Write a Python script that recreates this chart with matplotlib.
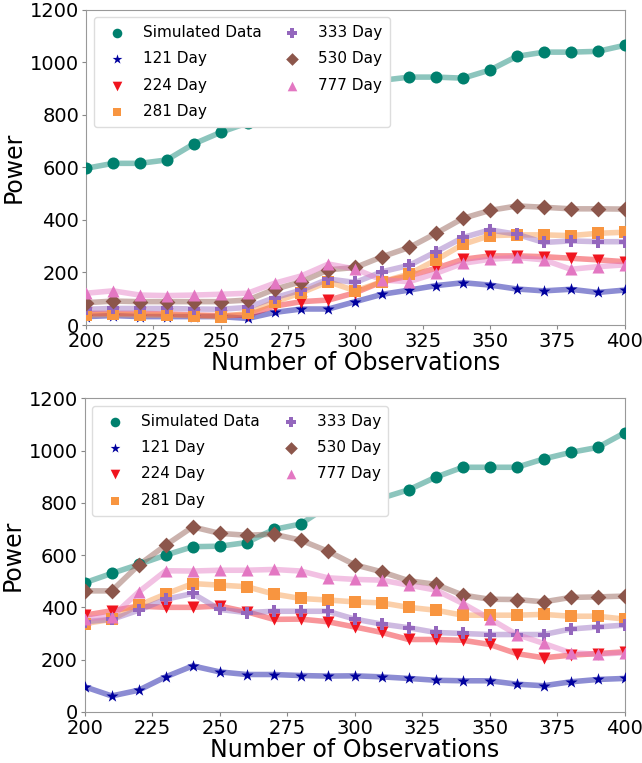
import numpy as np
import matplotlib.pyplot as plt

# number of observations on the x axis
n_obs = np.arange(200, 410, 10)

# panel 1
sim_a = [596, 615, 615, 628, 689, 733, 769, 807, 814, 818, 888,
         931, 943, 943, 939, 970, 1022, 1038, 1038, 1041, 1064]
d121_a = [32, 36, 32, 32, 32, 32, 25, 48, 61, 61, 89,
          117, 133, 150, 161, 152, 137, 130, 136, 124, 133]
d224_a = [44, 44, 44, 42, 38, 36, 38, 72, 89, 95, 123,
          165, 187, 216, 250, 263, 263, 260, 254, 248, 241]
d281_a = [38, 41, 38, 38, 36, 32, 44, 88, 123, 165, 130,
          165, 194, 248, 307, 340, 343, 343, 340, 349, 353]
d333_a = [60, 63, 63, 63, 61, 60, 67, 104, 133, 175, 162,
          203, 227, 279, 333, 362, 345, 314, 320, 317, 317]
d530_a = [85, 91, 89, 89, 89, 89, 95, 136, 165, 210, 219,
          260, 295, 349, 406, 436, 453, 448, 442, 442, 441]
d777_a = [121, 130, 114, 112, 114, 117, 121, 159, 187, 232, 213,
          171, 165, 197, 235, 250, 257, 248, 212, 222, 229]

# panel 2
sim_b = [494, 530, 564, 600, 632, 634, 648, 698, 719, 787, 812,
         818, 850, 898, 936, 936, 936, 968, 993, 1012, 1068]
d121_b = [96, 61, 83, 134, 176, 153, 143, 143, 139, 137, 138,
          134, 128, 121, 119, 119, 106, 100, 115, 124, 128]
d224_b = [370, 387, 405, 400, 400, 405, 383, 354, 355, 345, 325,
          304, 277, 277, 274, 258, 223, 207, 217, 223, 230]
d281_b = [338, 354, 408, 451, 491, 485, 479, 451, 434, 428, 421,
          417, 400, 389, 370, 370, 370, 373, 366, 366, 355]
d333_b = [345, 354, 389, 431, 453, 392, 380, 385, 385, 385, 355,
          336, 322, 304, 300, 296, 296, 296, 317, 325, 332]
d530_b = [463, 463, 562, 638, 708, 683, 676, 680, 657, 615, 563,
          536, 502, 488, 447, 431, 430, 421, 438, 440, 443]
d777_b = [357, 364, 459, 540, 539, 542, 542, 545, 539, 513, 507,
          504, 485, 466, 415, 357, 296, 262, 226, 221, 226]

labels = ['Simulated Data', '121 Day', '224 Day', '281 Day',
          '333 Day', '530 Day', '777 Day']
colors = ['#00806e', '#00009e', '#f0141e', '#f89540',
          '#9467bd', '#8c564b', '#e377c2']
markers = ['o', '*', 'v', 's', 'P', 'D', '^']
sizes = [75, 85, 75, 65, 85, 65, 75]

panels = [
    [sim_a, d121_a, d224_a, d281_a, d333_a, d530_a, d777_a],
    [sim_b, d121_b, d224_b, d281_b, d333_b, d530_b, d777_b],
]

fig = plt.figure(figsize=(6.42, 7.63), dpi=100)
boxes = [[0.134, 0.574, 0.839, 0.4135], [0.132, 0.067, 0.841, 0.411]]

for box, series in zip(boxes, panels):
    ax = fig.add_axes(box)
    for y, lab, c, m, s in zip(series, labels, colors, markers, sizes):
        ax.plot(n_obs, y, color=c, lw=4, alpha=0.45, zorder=2)
        ax.scatter(n_obs, y, color=c, marker=m, s=s, label=lab, zorder=3,
                   linewidths=0)
    ax.set_xlim(200, 400)
    ax.set_ylim(0, 1200)
    ax.set_xticks(np.arange(200, 425, 25))
    ax.set_yticks(np.arange(0, 1400, 200))
    ax.tick_params(labelsize=14, length=3, color='#888888', pad=2)
    for sp in ax.spines.values():
        sp.set_color('#999999')
    ax.set_xlabel('Number of Observations', fontsize=17, labelpad=0)
    ax.set_ylabel('Power', fontsize=17, labelpad=3)
    ax.legend(loc='upper left', ncol=2, fontsize=11, scatterpoints=1,
              markerscale=0.8, handletextpad=0.7, columnspacing=1.0,
              borderpad=0.5, labelspacing=0.75, framealpha=1,
              edgecolor='#dddddd')

fig.savefig('out.png', dpi=100)
